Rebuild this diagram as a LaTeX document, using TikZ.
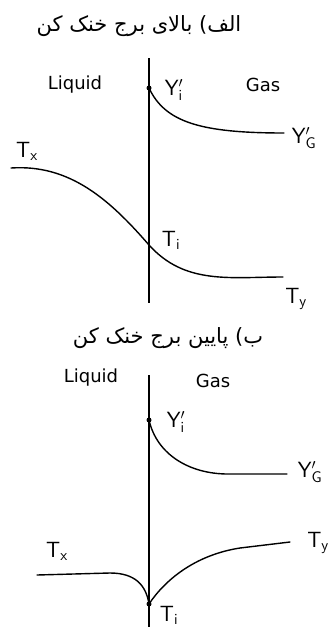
\documentclass[tikz,border=0pt]{standalone}
\usepackage{fontspec}
\setmainfont{DejaVu Sans}
\newfontfamily\arabicfont[Script=Arabic]{DejaVu Sans}
\TeXXeTstate=1
\begin{document}
\begin{tikzpicture}[x=1pt,y=-1pt,
  curve/.style={line width=1.4pt, line cap=round},
  axis/.style={line width=1.4pt},
  lbl/.style={font=\fontsize{18}{20}\selectfont, inner sep=0pt},
  sym/.style={font=\fontsize{22}{24}\selectfont, inner sep=0pt},
  title/.style={font=\arabicfont\fontsize{21}{24}\selectfont, inner sep=0pt},
  dot/.style={circle, fill=black, inner sep=0pt, minimum size=5pt}]
\useasboundingbox (0,0) rectangle (331,627);
% ---------- top panel ----------
\node[title] (t1) at (139,26) {\beginR الف) بالای برج خنک کن\endR};
\node[lbl] (liq1) at (75,85) {Liquid};
\node[lbl] (gas1) at (263,85) {Gas};
\coordinate (ax1a) at (149,58);
\coordinate (ax1b) at (149,303);
\draw[axis] (ax1a) -- (ax1b);
\node[dot] (yi1) at (149,88) {};
\node[sym] (yil1) at (174,90) {$\mathsf{Y'_i}$};
\coordinate (yg1) at (284,133);
\node[sym] (ygl1) at (304,138) {$\mathsf{Y'_G}$};
\draw[curve] (yi1.center) .. controls (165,122) and (200,133) .. (yg1);
\coordinate (tx1) at (11,168);
\node[sym] (txl1) at (27,151) {$\mathsf{T_x}$};
\coordinate (ti1) at (149,245);
\node[sym] (til1) at (171,240) {$\mathsf{T_i}$};
\coordinate (ty1) at (283,277);
\node[sym] (tyl1) at (296,299) {$\mathsf{T_y}$};
\draw[curve] (tx1) .. controls (70,164) and (110,200) .. (ti1)
  .. controls (185,285) and (230,277) .. (ty1);
% ---------- bottom panel ----------
\node[title] (t2) at (168,338) {\beginR ب) پایین برج خنک کن\endR};
\node[lbl] (liq2) at (91,378) {Liquid};
\node[lbl] (gas2) at (213,381) {Gas};
\coordinate (ax2a) at (149,375);
\coordinate (ax2b) at (149,627);
\draw[axis] (ax2a) -- (ax2b);
\node[dot] (yi2) at (149,420) {};
\node[sym] (yil2) at (176,422) {$\mathsf{Y'_i}$};
\coordinate (yg2) at (287,474);
\node[sym] (ygl2) at (310,472) {$\mathsf{Y'_G}$};
\draw[curve] (yi2.center) .. controls (157,455) and (190,474) .. (228,474) -- (yg2);
\node[dot] (ti2) at (149,604) {};
\node[sym] (til2) at (169,615) {$\mathsf{T_i}$};
\coordinate (tx2) at (37,575);
\node[sym] (txl2) at (57,551) {$\mathsf{T_x}$};
\coordinate (ty2) at (290,542);
\node[sym] (tyl2) at (318,543) {$\mathsf{T_y}$};
\draw[curve] (tx2) -- (110,573) .. controls (135,573) and (146,585) .. (ti2.center);
\draw[curve] (ti2.center) .. controls (165,580) and (195,555) .. (240,548) -- (ty2);
\end{tikzpicture}
\end{document}
